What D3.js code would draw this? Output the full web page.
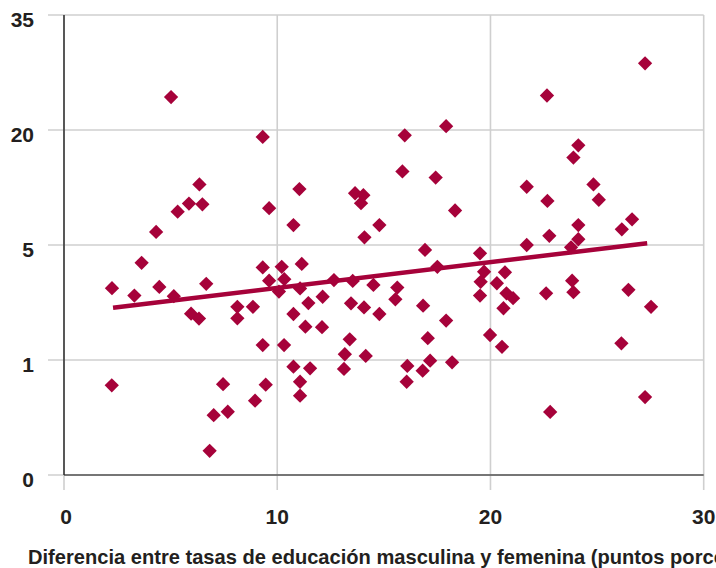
<!DOCTYPE html>
<html>
<head>
<meta charset="utf-8">
<script src="https://cdn.jsdelivr.net/npm/d3@7"></script>
<style>
  html, body { margin: 0; padding: 0; background: #fff; overflow: hidden; }
  svg { display: block; }
  text { font-family: "Liberation Sans", Arial, Helvetica, sans-serif; font-weight: bold; fill: #231f20; }
</style>
</head>
<body>
<svg id="chart" width="716" height="568"></svg>
<script>
// ---- data ----
const xValues = [
  2.25, 2.24, 3.30, 3.64, 4.32, 4.47, 5.02, 5.15, 5.33, 5.86,
  6.35, 6.49, 6.67, 5.96, 6.33, 7.46, 7.02, 7.68, 6.83, 8.13,
  8.13, 8.86, 9.32, 10.21, 11.15, 9.62, 10.33, 10.08, 11.07, 11.46,
  12.13, 9.62, 10.76, 9.32, 11.04, 13.65, 14.04, 13.93, 14.79, 14.09,
  18.34, 16.93, 19.51, 12.66, 13.54, 14.51, 15.63, 17.51, 10.76, 13.46,
  14.07, 14.79, 15.54, 16.84, 11.32, 12.10, 17.92, 9.32, 10.32, 13.40,
  17.06, 13.17, 14.15, 10.76, 11.54, 13.13, 16.10, 16.82, 17.17, 18.20,
  11.07, 16.07, 9.46, 11.07, 8.96, 15.98, 17.92, 15.87, 17.43, 22.65,
  27.25, 24.12, 23.89, 21.70, 24.83, 22.67, 25.08, 24.12, 22.76, 24.12,
  26.16, 26.64, 21.70, 23.78, 19.70, 20.68, 19.54, 20.30, 19.51, 20.75,
  21.06, 20.61, 22.61, 23.83, 23.89, 26.47, 27.53, 19.98, 20.54, 26.14,
  27.25, 22.80
];
const yValues = [
  3.50, 0.78, 3.24, 4.38, 6.7, 3.54, 24.3, 3.22, 9.35, 10.4,
  12.9, 10.3, 3.65, 2.61, 2.44, 0.79, 0.52, 0.55, 0.21, 2.85,
  2.45, 2.85, 4.22, 4.24, 4.34, 3.76, 3.81, 3.38, 3.49, 2.98,
  3.20, 9.8, 7.6, 19.1, 12.3, 11.75, 11.5, 10.45, 7.6, 6.0,
  9.5, 4.83, 4.71, 3.78, 3.75, 3.61, 3.52, 4.24, 2.60, 2.97,
  2.83, 2.60, 3.11, 2.89, 2.16, 2.14, 2.37, 1.52, 1.52, 1.72,
  1.76, 1.20, 1.14, 0.942, 0.928, 0.922, 0.948, 0.907, 0.994, 0.980,
  0.811, 0.811, 0.785, 0.690, 0.646, 19.3, 20.5, 14.6, 13.8, 24.5,
  28.7, 18.0, 16.4, 12.6, 12.9, 10.75, 10.9, 7.6, 6.2, 5.75,
  7.05, 8.35, 5.0, 4.92, 4.07, 4.05, 3.72, 3.67, 3.24, 3.32,
  3.15, 2.80, 3.32, 3.76, 3.36, 3.44, 2.85, 1.87, 1.46, 1.58,
  0.678, 0.548
];
const trendX = [2.3, 27.35];
const trendY = [2.82, 5.23];
const xTicks = [0, 10, 20, 30];
const yTicks = [0, 1, 5, 20, 35];
const yTickLabels = ["0", "1", "5", "20", "35"];
const xAxisTitle = "Diferencia entre tasas de educación masculina y femenina (puntos porcentuales)";

// ---- drawing ----
(function () {
  const svg = d3.select("#chart");
  const pLeft = 64, pRight = 703.7, pTop = 15, pBottom = 475;
  const x = d3.scaleLinear().domain([0, 30]).range([pLeft, pRight]);
  const yPositions = yTicks.map((d, i) => pBottom - i * (pBottom - pTop) / (yTicks.length - 1));
  const y = d3.scaleLinear().domain(yTicks).range(yPositions);

  const grid = "#cfcfcf";
  const red = "#a6023a";

  // horizontal gridlines (extending left as ticks)
  svg.append("g").selectAll("line").data(yTicks).join("line")
    .attr("x1", 48).attr("x2", pRight)
    .attr("y1", d => y(d)).attr("y2", d => y(d))
    .attr("stroke", grid).attr("stroke-width", 1.6);

  // vertical gridlines (extending below as ticks)
  svg.append("g").selectAll("line").data(xTicks).join("line")
    .attr("x1", d => x(d)).attr("x2", d => x(d))
    .attr("y1", pTop).attr("y2", 490)
    .attr("stroke", grid).attr("stroke-width", 1.6);

  // axes
  svg.append("line").attr("x1", x(0)).attr("x2", pRight)
    .attr("y1", y(0)).attr("y2", y(0)).attr("stroke", "#555").attr("stroke-width", 1.6);
  svg.append("line").attr("x1", x(0)).attr("x2", x(0))
    .attr("y1", pTop).attr("y2", y(0)).attr("stroke", "#222").attr("stroke-width", 1.4);

  // tick labels
  svg.append("g").selectAll("text").data(yTicks).join("text")
    .attr("x", 34).attr("y", d => y(d) + 11.5)
    .attr("text-anchor", "end").attr("font-size", 21)
    .text((d, i) => yTickLabels[i]);
  svg.append("g").selectAll("text").data(xTicks).join("text")
    .attr("x", d => x(d) + (d === 0 ? 2 : 0)).attr("y", 524)
    .attr("text-anchor", "middle").attr("font-size", 21)
    .text(d => d);

  // axis title (runs off the right edge, as in the original)
  svg.append("text").attr("x", 28).attr("y", 564)
    .attr("font-size", 20.1).text(xAxisTitle);

  // points
  const pts = xValues.map((d, i) => ({ x: d, y: yValues[i] }));
  svg.append("g").selectAll("path").data(pts).join("path")
    .attr("d", d3.symbol().type(d3.symbolSquare).size(102))
    .attr("transform", d => `translate(${x(d.x)},${y(d.y)}) rotate(45)`)
    .attr("fill", red);

  // trend line
  svg.append("line")
    .attr("x1", x(trendX[0])).attr("y1", y(trendY[0]))
    .attr("x2", x(trendX[1])).attr("y2", y(trendY[1]))
    .attr("stroke", red).attr("stroke-width", 4.5);
})();
</script>
</body>
</html>
